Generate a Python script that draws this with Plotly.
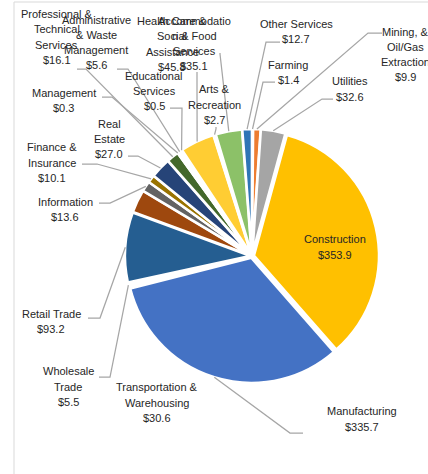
import math
import plotly.graph_objects as go

# ---------------- data ----------------
categories = [
    "Farming", "Mining, & Oil/Gas Extraction", "Utilities", "Construction",
    "Manufacturing", "Wholesale Trade", "Retail Trade",
    "Transportation & Warehousing", "Information", "Finance & Insurance",
    "Real Estate", "Professional & Technical Services", "Management",
    "Administrative & Waste Management", "Educational Services",
    "Health Care & Social Assistance", "Arts & Recreation",
    "Accommodation & Food Services", "Other Services",
]
values = [1.4, 9.9, 32.6, 353.9, 335.7, 5.5, 93.2, 30.6, 13.6, 10.1,
          27.0, 16.1, 0.3, 5.6, 0.5, 45.8, 2.7, 35.1, 12.7]
label_lines = [
    ["Farming"], ["Mining, &", "Oil/Gas", "Extraction"], ["Utilities"],
    ["Construction"], ["Manufacturing"], ["Wholesale", "Trade"],
    ["Retail Trade"], ["Transportation &", "Warehousing"], ["Information"],
    ["Finance &", "Insurance"], ["Real", "Estate"],
    ["Professional &", "Technical", "Services"], ["Management"],
    ["Administrative", "& Waste", "Management"], ["Educational", "Services"],
    ["Health Care &", "Social", "Assistance"], ["Arts &", "Recreation"],
    ["Accommodatio", "n & Food", "Services"], ["Other Services"],
]
# tiny slices are hidden by the white slice borders in the original
colors = ["#FFFFFF", "#ED7D31", "#A5A5A5", "#FFC000", "#4472C4", "#FFFFFF",
          "#255E91", "#9E480E", "#636363", "#997300", "#264478", "#43682B",
          "#FFFFFF", "#FFFFFF", "#FFFFFF", "#FFCD33", "#FFFFFF", "#8CC168",
          "#2E75B6"]

# ---------------- layout (pixels) ----------------
W, H = 428, 474
CX, CY = 252, 256          # pie centre
HALF = 127                 # half size of pie box
PULL = 0.016
LINE_H = 15.3

# label block centres (px)
label_pos = [
    (288, 72.5), (405, 54.5), (349.5, 89), (335, 247), (361.5, 419),
    (68, 386.5), (51, 321.5), (157, 402.5), (65, 209.5), (52, 162.5),
    (109, 139), (57, 37), (64, 100.5), (96, 42.5), (154, 91),
    (172, 44), (214, 104.5), (194, 43.5), (296, 31.5),
]
# leader line: start and elbow (px); None -> no leader
leader = [
    ((275, 82), (263, 82)), ((382, 33), (368, 33)), ((333, 99), (322, 99)),
    None, ((303, 433), (290, 433)),
    ((99, 377), (110, 377)), ((88, 318), (100, 318)), None,
    ((99, 203), (110, 203)), ((82, 164), (97, 164)),
    ((128, 156), (138, 156)), ((77, 69), (86, 69)), ((102, 97), (112, 97)),
    ((117, 69), (128, 69)), ((170, 108), (182, 108)),
    ((197, 72), (197, 90)), ((216, 127), (216, 129)),
    ((220, 53), (220, 54)), ((280, 42), (266, 42)),
]


def px(x):
    return x / W


def py(y):
    return 1 - y / H


fig = go.Figure(go.Pie(
    labels=categories, values=values, sort=False, direction="clockwise",
    rotation=0, pull=[PULL] * len(values), textinfo="none", hoverinfo="skip",
    marker=dict(colors=colors, line=dict(color="white", width=2.5)),
    domain=dict(x=[px(CX - HALF), px(CX + HALF)],
                y=[py(CY + HALF), py(CY - HALF)]),
    showlegend=False,
))

font = dict(family="Liberation Sans, Arial", size=11, color="#262626")
total = sum(values)
shapes = []
annotations = []
cum = 0.0
for i, v in enumerate(values):
    mid = (cum + v / 2) / total * 2 * math.pi
    cum += v
    ex = CX + HALF * math.sin(mid)
    ey = CY - HALF * math.cos(mid)
    lx, ly = label_pos[i]
    lines = label_lines[i] + [f"${v:.1f}"]
    n = len(lines)
    for k, t in enumerate(lines):
        yk = ly + (k - (n - 1) / 2) * LINE_H
        annotations.append(dict(
            x=px(lx), y=py(yk), xref="paper", yref="paper", showarrow=False,
            xanchor="center", yanchor="middle", align="center",
            text=t, font=font))
    if leader[i] is not None:
        (sx, sy), (bx, by) = leader[i]
        shapes.append(dict(
            type="path", xref="paper", yref="paper",
            path=f"M {px(sx)},{py(sy)} L {px(bx)},{py(by)} L {px(ex)},{py(ey)}",
            line=dict(color="#A6A6A6", width=1.25)))

# chart frame (left and top edges visible)
shapes.append(dict(type="line", xref="paper", yref="paper",
                   x0=px(14), y0=py(2), x1=px(14), y1=py(H),
                   line=dict(color="#D9D9D9", width=1)))
shapes.append(dict(type="line", xref="paper", yref="paper",
                   x0=px(14), y0=py(2), x1=px(W), y1=py(2),
                   line=dict(color="#D9D9D9", width=1)))

fig.update_layout(
    width=W, height=H, autosize=False,
    margin=dict(l=0, r=0, t=0, b=0),
    paper_bgcolor="white", plot_bgcolor="white",
    shapes=shapes, annotations=annotations,
)

fig.write_html("out.html",
               config={"displayModeBar": False, "staticPlot": True},
               post_script="document.body.style.margin='0';"
                           "document.body.style.overflow='hidden';")
